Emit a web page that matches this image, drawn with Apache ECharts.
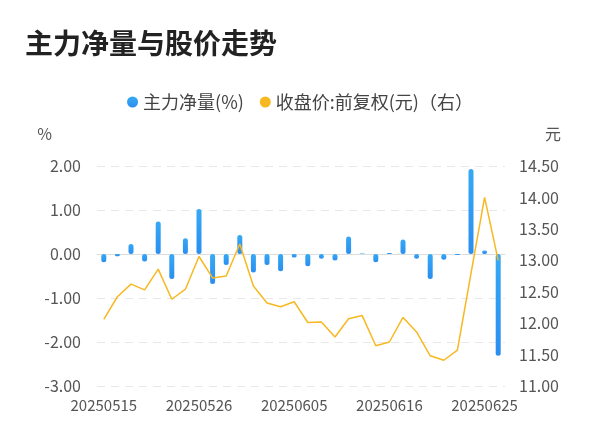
<!DOCTYPE html>
<html>
<head>
<meta charset="utf-8">
<script src="https://cdn.jsdelivr.net/npm/echarts@6/dist/echarts.min.js"></script>
<style>
  html, body { margin: 0; padding: 0; background: #fff; }
  .main { width: 600px; height: 446px; }
</style>
</head>
<body>
<div class="main"></div>
<script>
// 日期
var dates = ['20250515','20250516','20250519','20250520','20250521','20250522','20250523',
  '20250526','20250527','20250528','20250529','20250530','20250603','20250604',
  '20250605','20250606','20250609','20250610','20250611','20250612','20250613',
  '20250616','20250617','20250618','20250619','20250620','20250623','20250624',
  '20250625','20250626'];
// 主力净量(%)
var netFlow = [-0.19,-0.05,0.23,-0.17,0.74,-0.57,0.36,1.02,-0.68,-0.25,0.43,-0.42,-0.25,-0.39,
  -0.08,-0.28,-0.11,-0.15,0.40,0.01,-0.19,0.02,0.33,-0.11,-0.57,-0.13,-0.02,1.93,0.08,-2.31];
// 收盘价:前复权(元)
var closePrice = [12.06,12.42,12.62,12.53,12.86,12.38,12.54,13.06,12.72,12.75,13.26,12.59,12.32,12.26,
  12.34,12.01,12.02,11.78,12.07,12.12,11.64,11.70,12.09,11.86,11.48,11.41,11.57,12.79,14.00,13.00];

(function() {
  var myChart = echarts.init(document.querySelector(".main"));
  var font = "'Noto Sans CJK SC', sans-serif";
  var option = {
    textStyle: { fontFamily: font },
    animation: false,
    title: {
      text: '主力净量与股价走势',
      left: 20,
      top: 24,
      textStyle: { fontSize: 28, fontWeight: 'bold', color: '#222', fontFamily: font }
    },
    legend: {
      top: 88,
      left: 'center',
      itemWidth: 11,
      itemHeight: 11,
      itemGap: 16,
      textStyle: { fontSize: 18, color: '#444' },
      data: [
        { name: '主力净量(%)', icon: 'circle' },
        { name: '收盘价:前复权(元)（右）', icon: 'circle' }
      ]
    },
    grid: { left: 97, right: 95, top: 166, bottom: 60 },
    xAxis: {
      type: 'category',
      data: dates,
      axisTick: { show: false },
      axisLine: { lineStyle: { color: '#ddd' } },
      axisLabel: { interval: 6, color: '#555', fontSize: 15, margin: 12 }
    },
    yAxis: [
      {
        type: 'value', name: '%', min: -3, max: 2, interval: 1,
        nameLocation: 'end', nameGap: 24,
        nameTextStyle: { color: '#555', fontSize: 16, align: 'right', padding: [0, 45, 0, 0] },
        axisLabel: { color: '#555', fontSize: 16, margin: 16, formatter: function(v) { return v.toFixed(2); } },
        splitLine: { lineStyle: { color: '#e8e8e8', type: [8, 6] } }
      },
      {
        type: 'value', name: '元', min: 11, max: 14.5, interval: 0.5,
        nameLocation: 'end', nameGap: 24,
        nameTextStyle: { color: '#555', fontSize: 16, align: 'left', padding: [0, 0, 0, 40] },
        axisLabel: { color: '#555', fontSize: 16, margin: 14, formatter: function(v) { return v.toFixed(2); } },
        splitLine: { show: false }
      }
    ],
    series: [
      {
        name: '主力净量(%)',
        type: 'bar',
        barWidth: 5,
        data: netFlow,
        itemStyle: {
          borderRadius: 3,
          color: new echarts.graphic.LinearGradient(0, 0, 0, 1, [
            { offset: 0, color: '#36a9f4' },
            { offset: 1, color: '#2b8ef0' }
          ])
        }
      },
      {
        name: '收盘价:前复权(元)（右）',
        type: 'line',
        yAxisIndex: 1,
        symbol: 'none',
        data: closePrice,
        itemStyle: { color: '#f7b822' },
        lineStyle: { color: '#f7b822', width: 1.5 }
      }
    ]
  };
  myChart.setOption(option);
  window.addEventListener("resize", function() {
    myChart.resize();
  });
})();
</script>
</body>
</html>
